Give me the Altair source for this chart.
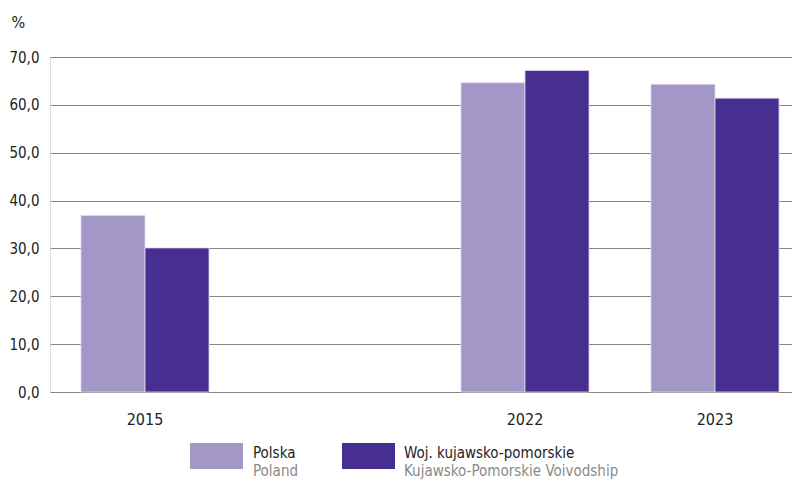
import altair as alt
import pandas as pd

years = ["2015", "2022", "2023"]
x_domain = ["2015", " ", "2022", "2023"]
series = ["Polska", "Woj. kujawsko-pomorskie"]
polska = [36.9, 64.6, 64.3]
woj = [30.1, 67.2, 61.4]
y_ticks = [0, 10, 20, 30, 40, 50, 60, 70]
colors = ["#a397c8", "#472f91"]
legend_main = ["Polska", "Woj. kujawsko-pomorskie"]
legend_sub = ["Poland", "Kujawsko-Pomorskie Voivodship"]

FONT = "DejaVu Sans Condensed, sans-serif"

rows = []
for i, y in enumerate(years):
    rows.append({"year": y, "series": series[0], "value": polska[i]})
    rows.append({"year": y, "series": series[1], "value": woj[i]})
df = pd.DataFrame(rows)

bars = alt.Chart(df).mark_bar(stroke="#ddd8ec", strokeWidth=0.8).encode(
    x=alt.X("year:N", sort=x_domain,
            scale=alt.Scale(domain=x_domain, range=[0, 760],
                            paddingInner=0.326, paddingOuter=0.163),
            axis=alt.Axis(title=None, labelAngle=0, ticks=False, domain=False,
                          labelPadding=19, labelFontSize=16, labelColor="#222222",
                          labelFont=FONT, grid=False)),
    xOffset=alt.XOffset("series:N", sort=series,
                        scale=alt.Scale(domain=series, paddingInner=0, paddingOuter=0)),
    y=alt.Y("value:Q",
            scale=alt.Scale(domain=[0, 70], nice=False),
            axis=alt.Axis(values=y_ticks, title="%", titleAngle=0,
                          titleX=-39, titleY=-30, titleAlign="left",
                          titleBaseline="alphabetic", titleFont=FONT,
                          titleFontSize=16, titleFontWeight="normal",
                          titleColor="#222222",
                          labelExpr="replace(format(datum.value, '.1f'), '.', ',')",
                          ticks=False, domain=False, labelPadding=11,
                          labelFontSize=15, labelFont=FONT, labelColor="#222222",
                          grid=True, gridColor="#878787", gridWidth=1.2)),
    color=alt.Color("series:N", sort=series,
                    scale=alt.Scale(domain=series, range=colors), legend=None),
)

# manual legend
leg_df = pd.DataFrame({
    "x": [140, 292],
    "x2": [193, 345],
    "tx": [203, 354],
    "main": legend_main,
    "sub": legend_sub,
    "series": series,
})

leg_rect = alt.Chart(leg_df).mark_rect().encode(
    x=alt.X("x:Q", scale=None),
    x2="x2:Q",
    y=alt.value(386),
    y2=alt.value(412),
    color=alt.Color("series:N", sort=series,
                    scale=alt.Scale(domain=series, range=colors), legend=None),
)
leg_main = alt.Chart(leg_df).mark_text(
    align="left", baseline="alphabetic", fontSize=15, font=FONT, color="#222222"
).encode(
    x=alt.X("tx:Q", scale=None), y=alt.value(401), text="main:N"
)
leg_sub = alt.Chart(leg_df).mark_text(
    align="left", baseline="alphabetic", fontSize=15, font=FONT, color="#8a8a8a"
).encode(
    x=alt.X("tx:Q", scale=None), y=alt.value(419), text="sub:N"
)

chart = alt.layer(bars, leg_rect, leg_main, leg_sub).properties(
    width=742, height=335,
    autosize=alt.AutoSizeParams(type="none"),
    padding={"left": 42, "top": 49, "right": 0, "bottom": 88},
).configure_view(stroke=None).configure(background="white")

chart.save("out.html", embed_options={"renderer": "svg", "actions": False})
